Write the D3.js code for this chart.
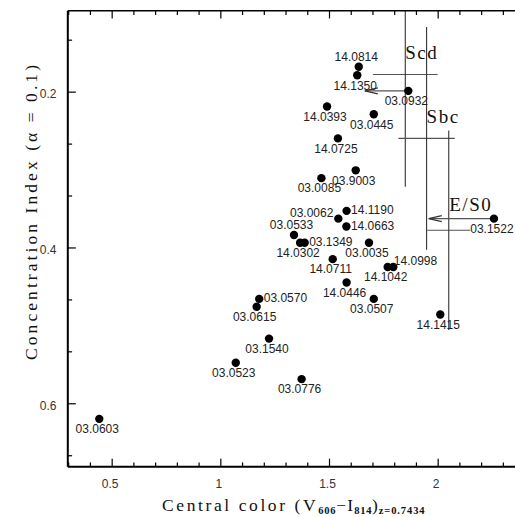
<!DOCTYPE html>
<html><head><meta charset="utf-8">
<script src="https://cdn.jsdelivr.net/npm/d3@7/dist/d3.min.js"></script>
<style>html,body{margin:0;padding:0;background:#fff;} svg{display:block;}</style>
</head><body><svg id="c" width="515" height="517"></svg>
<script>
// ---------- data ----------
const ids = ["14.0814","14.1350","03.0932","14.0393","03.0445","14.0725","03.9003","03.0085","14.1190","03.0062","14.0663","03.0533","14.0302","03.1349","03.0035","14.0711","14.1042","14.0998","14.0446","03.0507","03.0570","03.0615","14.1415","03.1540","03.1522","03.0523","03.0776","03.0603"];
const centralColor = [1.637,1.630,1.865,1.491,1.706,1.541,1.623,1.465,1.581,1.543,1.580,1.339,1.367,1.388,1.684,1.517,1.770,1.796,1.581,1.706,1.179,1.167,2.012,1.224,2.259,1.071,1.374,0.443];
const concIndex = [0.168,0.179,0.199,0.219,0.229,0.260,0.301,0.311,0.353,0.363,0.373,0.384,0.394,0.394,0.394,0.415,0.425,0.425,0.445,0.466,0.466,0.476,0.486,0.517,0.363,0.548,0.569,0.620];
const labelSide = ["above","below","below","below","below","below","below","below","right","leftUp","right","above","below","right","below","below","below","rightUp","below","below","right","below","below","below","below","below","below","below"];

const typeNames = ["Scd","Sbc","E/S0"];
const typeColor = [1.851,1.949,2.051];
const typeColorErr = [0.149,0.130,0.099];
const typeConc = [0.178,0.260,0.378];
const typeConcErr = [0.144,0.143,0.128];

const arrowFrom = ["03.0932","03.1522"];
const arrowShift = [-0.2,-0.3];

const xMajor = [0.5,1,1.5,2];
const xMinor = [0.3,0.4,0.6,0.7,0.8,0.9,1.1,1.2,1.3,1.4,1.6,1.7,1.8,1.9,2.1,2.2,2.3];
const yMajor = [0.2,0.4,0.6];
const yMinor = [0.1333,0.2667,0.3333,0.4667,0.5333,0.6667];
const xTickLabels = ["0.5","1","1.5","2"];
const yTickLabels = ["0.2","0.4","0.6"];

// ---------- layout ----------
const W = 515, H = 517;
const pLeft = 67.8, pTop = 10.7, pBottom = 466.7;
const svg = d3.select("#c");
const x = d3.scaleLinear().domain([0.3, 2.4]).range([68.2, 524.6]);
const y = d3.scaleLinear().domain([0.0961, 0.6814]).range([pTop, pBottom]);
const pRight = x(2.4);

const sideOff = {
  below:{dx:-2,dy:14.3,anchor:"middle"},
  above:{dx:-2.5,dy:-5.7,anchor:"middle"},
  right:{dx:4.5,dy:3.6,anchor:"start"},
  leftUp:{dx:-5,dy:-1.7,anchor:"end"},
  rightUp:{dx:0.5,dy:-2.2,anchor:"start"}
};

svg.append("defs").append("clipPath").attr("id","plot")
  .append("rect").attr("x",pLeft).attr("y",pTop).attr("width",pRight-pLeft).attr("height",pBottom-pTop);

const g = svg.append("g").attr("clip-path","url(#plot)");

// type crosses
const types = typeNames.map((n,i)=>({n, cx:typeColor[i], ex:typeColorErr[i], cy:typeConc[i], ey:typeConcErr[i]}));
types.forEach(t=>{
  g.append("line").attr("x1",x(t.cx-t.ex)).attr("x2",x(t.cx+t.ex)).attr("y1",y(t.cy)).attr("y2",y(t.cy))
    .attr("stroke","#555").attr("stroke-width",1.1);
  g.append("line").attr("x1",x(t.cx)).attr("x2",x(t.cx)).attr("y1",y(t.cy-t.ey)).attr("y2",y(t.cy+t.ey))
    .attr("stroke","#333").attr("stroke-width",1.1);
});
const typeLabOff = [{dx:0,dy:-15.5},{dx:0,dy:-15.4},{dx:0.5,dy:-19}];
types.forEach((t,i)=>{
  svg.append("text").attr("x",x(t.cx)+typeLabOff[i].dx).attr("y",y(t.cy)+typeLabOff[i].dy)
    .attr("font-family","Liberation Serif").attr("font-size",19).attr("letter-spacing",1.5)
    .attr("fill","#111").text(t.n);
});

// arrows
const pts = ids.map((id,i)=>({id, cx:centralColor[i], ci:concIndex[i], side:labelSide[i]}));
arrowFrom.forEach((id,i)=>{
  const p = pts.find(d=>d.id===id);
  const x0 = x(p.cx), x1 = x(p.cx+arrowShift[i]), yy = y(p.ci);
  g.append("line").attr("x1",x0).attr("x2",x1).attr("y1",yy).attr("y2",yy).attr("stroke","#555").attr("stroke-width",1.2);
  g.append("path").attr("d",`M${x1+13},${yy-3}L${x1},${yy}L${x1+13},${yy+3}`)
    .attr("fill","none").attr("stroke","#333").attr("stroke-width",1.2);
});

// points
g.selectAll("circle.pt").data(pts).join("circle").attr("class","pt")
  .attr("cx",d=>x(d.cx)).attr("cy",d=>y(d.ci)).attr("r",4.2).attr("fill","#000");

svg.selectAll("text.lab").data(pts).join("text").attr("class","lab")
  .attr("x",d=>x(d.cx)+sideOff[d.side].dx).attr("y",d=>y(d.ci)+sideOff[d.side].dy)
  .attr("text-anchor",d=>sideOff[d.side].anchor)
  .attr("font-family","Liberation Sans, Arial, sans-serif").attr("font-size",12).attr("fill","#222")
  .text(d=>d.id);

// axes frame
const ax = svg.append("g").attr("stroke","#000");
ax.append("line").attr("x1",pLeft).attr("x2",W+5).attr("y1",pBottom).attr("y2",pBottom).attr("stroke-width",2);
ax.append("line").attr("x1",pLeft).attr("x2",W+5).attr("y1",pTop).attr("y2",pTop).attr("stroke-width",1.6);
ax.append("line").attr("x1",pLeft).attr("x2",pLeft).attr("y1",pTop).attr("y2",pBottom).attr("stroke-width",2);

// ticks via d3 axes
function tickAxis(gen, sel, values, size){
  sel.call(gen.tickValues(values).tickSize(size).tickFormat(""));
  sel.select(".domain").remove();
  sel.selectAll(".tick line").attr("stroke","#000").attr("stroke-width",1.2);
}
tickAxis(d3.axisTop(x), svg.append("g").attr("transform",`translate(0,${pBottom})`), xMajor, 8);
tickAxis(d3.axisTop(x), svg.append("g").attr("transform",`translate(0,${pBottom})`), xMinor, 4.3);
tickAxis(d3.axisBottom(x), svg.append("g").attr("transform",`translate(0,${pTop})`), xMajor, 7.7);
tickAxis(d3.axisBottom(x), svg.append("g").attr("transform",`translate(0,${pTop})`), xMinor, 4.3);
tickAxis(d3.axisRight(y), svg.append("g").attr("transform",`translate(${pLeft},0)`), yMajor, 8);
tickAxis(d3.axisRight(y), svg.append("g").attr("transform",`translate(${pLeft},0)`), yMinor, 4.3);

// tick labels
svg.selectAll("text.xt").data(xMajor).join("text").attr("class","xt")
  .attr("x",d=>x(d)-1.5).attr("y",488.3).attr("text-anchor","middle")
  .attr("font-family","Liberation Sans, Arial, sans-serif").attr("font-size",12).attr("fill","#333")
  .text((d,i)=>xTickLabels[i]);
svg.selectAll("text.yt").data(yMajor).join("text").attr("class","yt")
  .attr("x",56.5).attr("y",d=>y(d)+6.5).attr("text-anchor","end")
  .attr("font-family","Liberation Sans, Arial, sans-serif").attr("font-size",12).attr("fill","#333")
  .text((d,i)=>yTickLabels[i]);

// axis titles
svg.append("text").attr("transform","translate(36.5,212.5) rotate(-90)")
  .attr("text-anchor","middle").attr("font-family","Liberation Serif").attr("font-size",17.5)
  .attr("fill","#111").attr("textLength",295).attr("lengthAdjust","spacing")
  .text("Concentration Index (\u03b1 = 0.1)");

const xt = svg.append("text").attr("x",162).attr("y",510.7)
  .attr("font-family","Liberation Serif").attr("font-size",17.5).attr("fill","#111");
xt.append("tspan").attr("letter-spacing",2.6).text("Central color (V");
xt.append("tspan").attr("font-size",10.5).attr("font-weight","bold").attr("dy",3.5).attr("letter-spacing",0.7).text("606");
xt.append("tspan").attr("dy",-3.5).attr("letter-spacing",1.2).text("\u2212I");
xt.append("tspan").attr("font-size",10.5).attr("font-weight","bold").attr("dy",3.5).attr("letter-spacing",0.7).text("814");
xt.append("tspan").attr("dy",-3.5).attr("letter-spacing",0.8).text(")");
xt.append("tspan").attr("font-size",10.5).attr("font-weight","bold").attr("dy",3.5).attr("letter-spacing",0.9).text("z=0.7434");
</script></body></html>
